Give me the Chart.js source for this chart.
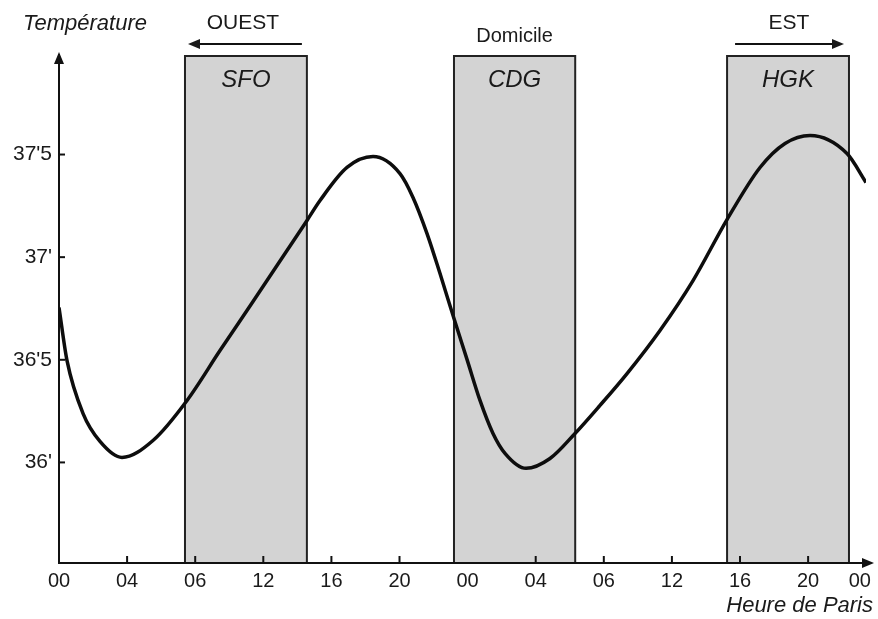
<!DOCTYPE html>
<html><head><meta charset="utf-8">
<script src="https://cdn.jsdelivr.net/npm/chart.js@4.4.1/dist/chart.umd.min.js"></script>
<style>html,body{margin:0;padding:0;background:#fff}</style>
</head><body>
<canvas id="c" width="878" height="619"></canvas>
<script>
const FONT = "'Liberation Sans', Arial, Helvetica, sans-serif";

// x positions are "slots" along the schematic time axis (one per tick label)
const xTickPos    = [0, 1, 2, 3, 4, 5, 6, 7, 8, 9, 10, 11, 11.76];
const xTickLabels = ['00','04','06','12','16','20','00','04','06','12','16','20','00'];
const yTickVals   = [36, 36.5, 37, 37.5];
const yTickLabels = ["36'", "36'5", "37'", "37'5"];

// body temperature curve
const curveX = [0, 0.117, 0.352, 0.602, 0.925, 1.38, 1.88, 2.364, 2.849, 3.348, 3.642, 3.833, 4.229, 4.611, 5.007, 5.198, 5.404, 5.595, 5.80, 5.991, 6.182, 6.373, 6.549, 6.858, 7.21, 7.577, 7.944, 8.341, 8.825, 9.31, 9.809, 10.294, 10.661, 11.028, 11.571, 11.85];
const curveT = [36.755, 36.497, 36.239, 36.102, 36.024, 36.107, 36.302, 36.545, 36.784, 37.032, 37.179, 37.276, 37.437, 37.49, 37.407, 37.291, 37.115, 36.92, 36.701, 36.502, 36.302, 36.141, 36.044, 35.971, 36.019, 36.141, 36.278, 36.433, 36.643, 36.886, 37.183, 37.437, 37.554, 37.593, 37.505, 37.364];

// shaded zones (airports)
const zoneNames = ['SFO', 'CDG', 'HGK'];
const zoneStart = [1.85, 5.80, 9.81];
const zoneEnd   = [3.64, 7.58, 11.60];
const zoneTitles = ['OUEST', 'Domicile', 'EST'];
const zoneArrows = ['left', '', 'right'];

const yTitle = 'Température';
const xTitle = 'Heure de Paris';

const decor = {
  id: 'decor',
  beforeDraw(chart) {
    const ctx = chart.ctx, xs = chart.scales.x, a = chart.chartArea;
    ctx.save();
    ctx.fillStyle = '#fff';
    ctx.fillRect(0, 0, chart.width, chart.height);
    for (let i = 0; i < zoneNames.length; i++) {
      const x1 = xs.getPixelForValue(zoneStart[i]);
      const x2 = xs.getPixelForValue(zoneEnd[i]);
      ctx.fillStyle = '#d3d3d3';
      ctx.fillRect(x1, a.top, x2 - x1, a.bottom - a.top);
      ctx.strokeStyle = '#222';
      ctx.lineWidth = 2;
      ctx.strokeRect(x1, a.top, x2 - x1, a.bottom - a.top);
    }
    ctx.restore();
  },
  afterDraw(chart) {
    const ctx = chart.ctx, xs = chart.scales.x, ys = chart.scales.y, a = chart.chartArea;
    ctx.save();
    ctx.strokeStyle = '#111';
    ctx.fillStyle = '#111';
    ctx.lineWidth = 2;
    // inner tick marks
    yTickVals.forEach(v => {
      const y = ys.getPixelForValue(v);
      ctx.beginPath(); ctx.moveTo(a.left, y); ctx.lineTo(a.left + 6, y); ctx.stroke();
    });
    xTickPos.forEach((v, i) => {
      if (i === 0 || i === 6 || i === xTickPos.length - 1) return;
      const x = xs.getPixelForValue(v);
      ctx.beginPath(); ctx.moveTo(x, a.bottom); ctx.lineTo(x, a.bottom - 7); ctx.stroke();
    });
    // axis arrows
    ctx.beginPath();
    ctx.moveTo(a.left, a.top + 2); ctx.lineTo(a.left, a.top - 2); ctx.stroke();
    ctx.beginPath();
    ctx.moveTo(a.left, a.top - 4); ctx.lineTo(a.left - 5, a.top + 8); ctx.lineTo(a.left + 5, a.top + 8); ctx.closePath(); ctx.fill();
    ctx.beginPath();
    ctx.moveTo(a.right + 8, a.bottom); ctx.lineTo(a.right - 4, a.bottom - 5); ctx.lineTo(a.right - 4, a.bottom + 5); ctx.closePath(); ctx.fill();

    // zone labels
    ctx.fillStyle = '#1a1a1a';
    ctx.textAlign = 'center';
    ctx.textBaseline = 'alphabetic';
    for (let i = 0; i < zoneNames.length; i++) {
      const x1 = xs.getPixelForValue(zoneStart[i]);
      const x2 = xs.getPixelForValue(zoneEnd[i]);
      const cx = (x1 + x2) / 2;
      ctx.font = 'italic 24px ' + FONT;
      ctx.fillText(zoneNames[i], cx, a.top + 31);
      if (zoneArrows[i]) {
        ctx.font = '21px ' + FONT;
        ctx.fillText(zoneTitles[i], cx - (zoneArrows[i] === 'left' ? 3 : -1), 29);
        const l = x1 + 3, r = x2 - 5, y = 44;
        ctx.lineWidth = 2;
        ctx.beginPath();
        if (zoneArrows[i] === 'left') {
          ctx.moveTo(r, y); ctx.lineTo(l + 8, y); ctx.stroke();
          ctx.beginPath(); ctx.moveTo(l, y); ctx.lineTo(l + 12, y - 5); ctx.lineTo(l + 12, y + 5); ctx.closePath(); ctx.fill();
        } else {
          ctx.moveTo(l + 5, y); ctx.lineTo(r - 8, y); ctx.stroke();
          ctx.beginPath(); ctx.moveTo(r, y); ctx.lineTo(r - 12, y - 5); ctx.lineTo(r - 12, y + 5); ctx.closePath(); ctx.fill();
        }
      } else {
        ctx.font = '20px ' + FONT;
        ctx.fillText(zoneTitles[i], cx, 42);
      }
    }
    // axis titles
    ctx.font = 'italic 22px ' + FONT;
    ctx.textAlign = 'center';
    ctx.fillText(yTitle, 85, 30);
    ctx.textAlign = 'right';
    ctx.fillText(xTitle, 873, 612);
    ctx.restore();
  }
};

new Chart(document.getElementById('c').getContext('2d'), {
  type: 'line',
  data: {
    datasets: [{
      data: curveX.map((x, i) => ({ x: x, y: curveT[i] })),
      borderColor: '#0d0d0d',
      borderWidth: 3.5,
      pointRadius: 0,
      cubicInterpolationMode: 'monotone',
      fill: false
    }]
  },
  options: {
    responsive: false,
    animation: false,
    devicePixelRatio: 1,
    layout: { padding: { top: 56, right: 12, left: 0, bottom: 0 } },
    plugins: { legend: { display: false }, tooltip: { enabled: false } },
    scales: {
      x: {
        type: 'linear', min: 0, max: 11.85,
        grid: { display: false, drawTicks: false },
        border: { display: true, color: '#111', width: 2 },
        afterBuildTicks: s => { s.ticks = xTickPos.map(v => ({ value: v })); },
        afterFit: s => { s.height = 56; },
        ticks: { autoSkip: false, maxRotation: 0, minRotation: 0, padding: 6, color: '#1a1a1a',
                 font: { family: FONT, size: 20 }, callback: (v, i) => xTickLabels[i] }
      },
      y: {
        type: 'linear', min: 35.51, max: 37.98,
        grid: { display: false, drawTicks: false },
        border: { display: true, color: '#111', width: 2 },
        afterBuildTicks: s => { s.ticks = yTickVals.map(v => ({ value: v })); },
        afterFit: s => { s.width = 59; },
        ticks: { padding: 7, color: '#1a1a1a', font: { family: FONT, size: 21 },
                 callback: (v, i) => yTickLabels[i] }
      }
    }
  },
  plugins: [decor]
});
</script>
</body></html>
